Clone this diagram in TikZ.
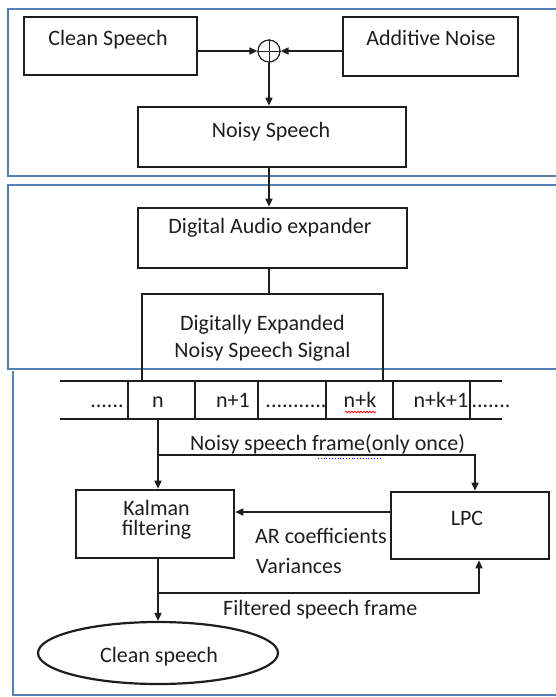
\documentclass[tikz,border=0pt]{standalone}
\usepackage{fontspec}
\setmainfont{Carlito}
\usetikzlibrary{arrows.meta,shapes.geometric,decorations.pathmorphing}
\definecolor{panel}{RGB}{84,130,182}
\definecolor{ink}{RGB}{30,30,30}
\begin{document}
\begin{tikzpicture}[x=1pt,y=-1pt,
  box/.style={draw=ink, line width=2.6pt, inner sep=0pt},
  lbl/.style={text=ink, inner sep=0pt, anchor=base, font=\fontsize{22}{26}\selectfont},
  conn/.style={draw=ink, line width=1.6pt},
  arr/.style={conn, -{Triangle[length=8pt,width=7pt]}},
  pan/.style={draw=panel, line width=2.4pt},
  tape/.style={draw=ink, line width=2.6pt},
  divider/.style={draw=ink, line width=2pt}]
\useasboundingbox (0,0) rectangle (556,697);
% panels
\draw[pan] (556,9) -- (8,9) -- (8,176) -- (556,176);
\draw[pan] (556,185) -- (8,185) -- (8,369) -- (556,369);
\draw[pan] (13,371) -- (13,695) -- (556,695);
% top panel
\node[box, minimum width=173pt, minimum height=58pt] (cs) at (110.5,46) {};
\node[lbl] (cst) at (108,45) {Clean Speech};
\node[box, minimum width=175pt, minimum height=59pt] (an) at (430.5,46.5) {};
\node[lbl] (ant) at (431,45) {Additive Noise};
\node[draw=ink, line width=1.2pt, circle, minimum size=22pt, inner sep=0pt] (sum) at (269,51) {};
\draw[ink, line width=1pt] (sum.north) -- (sum.south) (sum.west) -- (sum.east);
\node[box, minimum width=268pt, minimum height=60pt] (ns) at (272,137) {};
\node[lbl] (nst) at (271,137) {Noisy Speech};
\draw[arr] (cs.east |- sum.west) -- (sum.west);
\draw[arr] (an.west |- sum.east) -- (sum.east);
\draw[arr] (sum.south) -- (sum.south |- ns.north);
% second panel
\node[box, minimum width=269pt, minimum height=60pt] (dae) at (272.5,238) {};
\node[lbl] (daet) at (270,233) {Digital Audio expander};
\node[box, minimum width=241pt, minimum height=87pt] (des) at (262.5,337.5) {};
\node[lbl, align=center, font=\fontsize{22}{27}\selectfont] (dest) at (262.5,357) {Digitally Expanded\\Noisy Speech Signal};
\draw[arr] (sum |- ns.south) -- (sum |- dae.north);
\draw[conn] (sum |- dae.south) -- (sum |- des.north);
% tape
\coordinate (tl) at (60,381);
\coordinate (tr) at (502,381);
\coordinate (bl) at (60,419);
\coordinate (br) at (502,419);
\draw[tape] (tl) -- (tr);
\draw[tape] (bl) -- (br);
\foreach \xx in {128,195,258,326,393,470}
  \draw[divider] (\xx,381) -- (\xx,419);
\node[lbl] (c1) at (107,407) {......};
\node[lbl] (celln) at (158,407) {n};
\node[lbl] (c3) at (233,407) {n+1};
\node[lbl] (c4) at (296,407) {...........};
\node[lbl] (c5) at (360,407) {n+k};
\node[lbl] (c6) at (441,407) {n+k+1};
\node[lbl] (c7) at (491,407) {.......};
\draw[red, line width=0.8pt, decorate, decoration={snake, amplitude=0.8pt, segment length=3pt}] (345,412) -- (376,412);
% bottom panel
\node[box, minimum width=158pt, minimum height=68pt] (kf) at (155,524) {};
\node[lbl, align=center, font=\fontsize{22}{20}\selectfont] (kft) at (156.5,535) {Kalman\\filtering};
\node[box, minimum width=158pt, minimum height=67pt] (lpc) at (470,525.5) {};
\node[lbl] (lpct) at (467,525) {LPC};
\node[draw=ink, line width=2.2pt, ellipse, minimum width=240pt, minimum height=62pt, inner sep=0pt] (cl) at (158,653) {};
\node[lbl] (clt) at (159,662) {Clean speech};
\coordinate (nb) at (158,419);
\coordinate (sp1) at (158,455);
\coordinate (sp1r) at (475,455);
\coordinate (arl) at (0,512);
\coordinate (sp2) at (158,593);
\coordinate (sp2r) at (479,593);
\draw[arr] (nb) -- (nb |- kf.north);
\draw[arr] (sp1) -- (sp1r) -- (sp1r |- lpc.north);
\node[lbl, anchor=base west] (nsf) at (190,450) {Noisy speech frame(only once)};
\draw[blue, line width=0.8pt, dotted] (318,458) -- (380,458);
\draw[arr] (lpc.west |- arl) -- (kf.east |- arl);
\node[lbl, anchor=base west] (arc) at (255,543) {AR coefficients};
\node[lbl, anchor=base west] (var) at (256,573) {Variances};
\draw[arr] (nb |- kf.south) -- (nb |- cl.north);
\draw[arr] (sp2) -- (sp2r) -- (sp2r |- lpc.south);
\node[lbl, anchor=base west] (fsf) at (223,615) {Filtered speech frame};
\end{tikzpicture}
\end{document}
